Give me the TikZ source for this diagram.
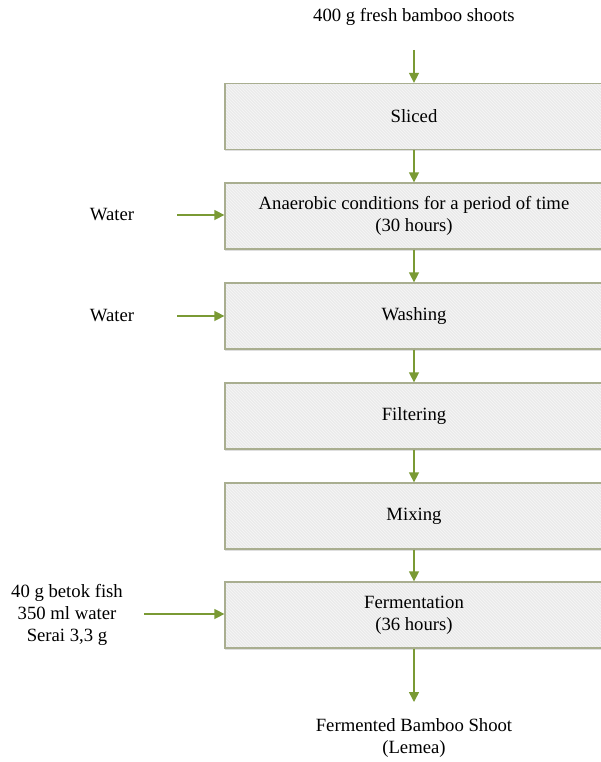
\documentclass[tikz,border=0pt]{standalone}
\usepackage{fontspec}
\setmainfont{Liberation Serif}
\usetikzlibrary{arrows.meta}
\usetikzlibrary{shadows}
\usetikzlibrary{patterns}
\definecolor{olivearrow}{HTML}{7A9A34}
\definecolor{boxborder}{HTML}{A9AE90}
\definecolor{boxfill}{HTML}{EBEBEB}
\tikzset{
  stepbox/.style={draw=boxborder, line width=1.3pt, fill=boxfill,
    drop shadow={shadow xshift=0pt, shadow yshift=-2pt, fill=black!25, opacity=0.5},
    path picture={\fill[pattern=north west lines, pattern color=white!60!boxfill]
      (path picture bounding box.south west) rectangle (path picture bounding box.north east);},
    minimum width=378pt, minimum height=66pt, inner sep=0pt,
    align=center, font=\fontsize{18.7}{22}\selectfont},
  plaintext/.style={align=center, font=\fontsize{18.7}{22}\selectfont},
  flow/.style={-{Triangle[length=10pt, width=10pt]}, line width=1.5pt, olivearrow}
}

\begin{document}
\begin{tikzpicture}[x=1pt, y=-1pt]
        \useasboundingbox (0,0) rectangle (601,762);
        \clip (0,0) rectangle (601,762);

        % Raw material
        \node[plaintext] (shoots) at (414,17) {400 g fresh bamboo shoots};
        \coordinate (start) at (414,50);

        % Process steps
        \node[stepbox] (sliced) at (414,116.5) {Sliced};
        \node[stepbox] (anaerobic) at (414,216) {Anaerobic conditions for a period of time\\(30 hours)};
        \node[stepbox] (washing) at (414,316) {Washing};
        \node[stepbox] (filtering) at (414,416) {Filtering};
        \node[stepbox] (mixing) at (414,516) {Mixing};
        \node[stepbox] (fermentation) at (414,615) {Fermentation\\(36 hours)};

        % Product
        \coordinate (finish) at (414,702);
        \node[plaintext] (lemea) at (414,738) {Fermented Bamboo Shoot\\(Lemea)};

        % Added ingredients
        \node[plaintext] (water1) at (112,215) {Water};
        \coordinate (water1end) at (177,215);
        \node[plaintext] (water2) at (112,316) {Water};
        \coordinate (water2end) at (177,316);
        \node[plaintext] (spices) at (67,615) {40 g betok fish\\350 ml water\\Serai 3,3 g};
        \coordinate (spicesend) at (144,614);

        % Main flow
        \draw[flow] (start) -- (sliced.north);
        \draw[flow] (sliced) -- (anaerobic);
        \draw[flow] (anaerobic) -- (washing);
        \draw[flow] (washing) -- (filtering);
        \draw[flow] (filtering) -- (mixing);
        \draw[flow] (mixing) -- (fermentation);
        \draw[flow] (fermentation.south) -- (finish);

        % Side inputs
        \draw[flow] (water1end) -- (water1end -| anaerobic.west);
        \draw[flow] (water2end) -- (water2end -| washing.west);
        \draw[flow] (spicesend) -- (spicesend -| fermentation.west);

    \end{tikzpicture}
\end{document}
